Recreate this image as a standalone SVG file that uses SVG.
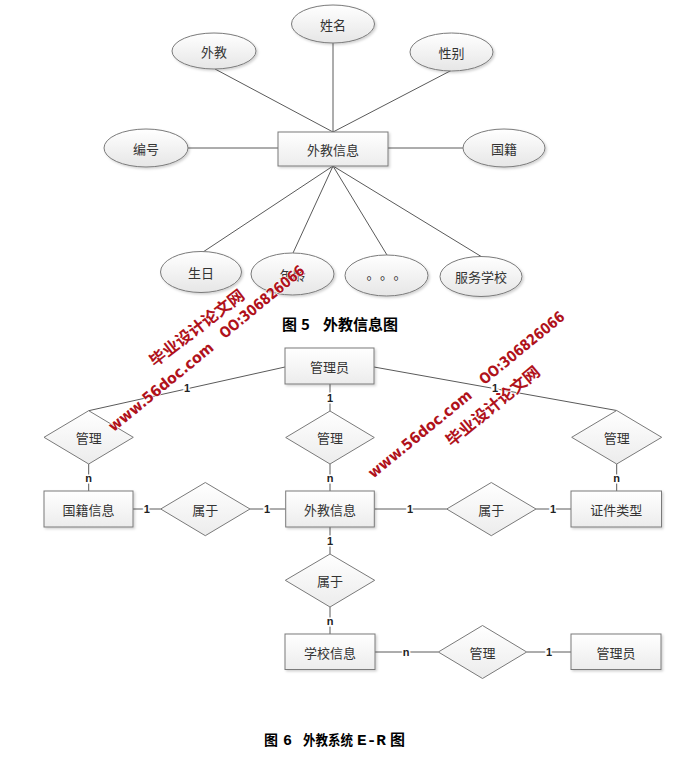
<svg xmlns="http://www.w3.org/2000/svg" width="693" height="757" viewBox="0 0 693 757">
<defs>
<linearGradient id="gE" x1="0" y1="0" x2="0" y2="1"><stop offset="0" stop-color="#ffffff"/><stop offset="1" stop-color="#e6e6e6"/></linearGradient>
<linearGradient id="gR" x1="0" y1="0" x2="0" y2="1"><stop offset="0" stop-color="#ffffff"/><stop offset="1" stop-color="#ececec"/></linearGradient>
<filter id="sh" x="-10%" y="-10%" width="130%" height="140%"><feDropShadow dx="1.5" dy="1.5" stdDeviation="1" flood-color="#000" flood-opacity="0.18"/></filter>
</defs>
<style>
.el{fill:url(#gE);stroke:#7a7a7a;stroke-width:1;filter:url(#sh)}
.rc{fill:url(#gR);stroke:#7a7a7a;stroke-width:1;filter:url(#sh)}
.dm{fill:url(#gR);stroke:#7a7a7a;stroke-width:1}
.ln{stroke:#5a5a5a;stroke-width:1;fill:none}
.t{font-family:"Noto Sans CJK SC","Noto Sans",sans-serif;font-size:13px;fill:#333;text-anchor:middle;dominant-baseline:central}
.c{font-family:"Liberation Sans",Arial,sans-serif;font-size:11px;font-weight:bold;fill:#222;text-anchor:middle;dominant-baseline:central;stroke:#fff;stroke-width:3;paint-order:stroke}
.cap{font-family:"Noto Sans CJK SC",sans-serif;font-size:15px;font-weight:bold;fill:#000}
.cap2{font-family:"Noto Sans CJK SC",sans-serif;font-size:14px;font-weight:bold;fill:#000}
.mono{font-family:"Liberation Mono","DejaVu Sans Mono",monospace;font-size:15px;font-weight:bold;fill:#000}
.wm{font-weight:bold;fill:#b0121b;stroke:#fff;stroke-width:1.2;paint-order:stroke;text-anchor:middle;dominant-baseline:central}
.wc{font-family:"Noto Sans CJK SC",sans-serif;font-size:16px}
.we{font-family:"DejaVu Sans",Verdana,sans-serif;font-size:15px}
</style>

<g id="connectors">
<!-- figure 5 -->
<line class="ln" x1="215" y1="69" x2="333" y2="132"/>
<line class="ln" x1="333" y1="43" x2="333" y2="132"/>
<line class="ln" x1="452" y1="70" x2="333" y2="132"/>
<line class="ln" x1="188" y1="148" x2="278" y2="148"/>
<line class="ln" x1="388" y1="148" x2="463" y2="148"/>
<line class="ln" x1="333" y1="166" x2="203" y2="252"/>
<line class="ln" x1="333" y1="166" x2="293" y2="253"/>
<line class="ln" x1="333" y1="166" x2="387" y2="255"/>
<line class="ln" x1="333" y1="166" x2="482" y2="257"/>
<!-- figure 6 -->
<line class="ln" x1="285" y1="367" x2="88.7" y2="410.7"/>
<line class="ln" x1="374" y1="367" x2="616.7" y2="410.5"/>
<line class="ln" x1="330" y1="384" x2="330" y2="411"/>
<line class="ln" x1="88.7" y1="464" x2="88.7" y2="491"/>
<line class="ln" x1="330" y1="464" x2="330" y2="491"/>
<line class="ln" x1="616.7" y1="464" x2="616.7" y2="491"/>
<line class="ln" x1="133" y1="509" x2="160.7" y2="509"/>
<line class="ln" x1="250" y1="509" x2="285.7" y2="509"/>
<line class="ln" x1="374.3" y1="509" x2="446.7" y2="509"/>
<line class="ln" x1="536" y1="509" x2="571" y2="509"/>
<line class="ln" x1="330" y1="527" x2="330" y2="554"/>
<line class="ln" x1="330" y1="607" x2="330" y2="634"/>
<line class="ln" x1="375" y1="652" x2="438.3" y2="652"/>
<line class="ln" x1="526.7" y1="652" x2="571" y2="652"/>
<text class="c" x="187" y="388">1</text>
<text class="c" x="495" y="388">1</text>
<text class="c" x="330" y="398">1</text>
<text class="c" x="88.7" y="478">n</text>
<text class="c" x="330" y="478">n</text>
<text class="c" x="616.7" y="478">n</text>
<text class="c" x="146.7" y="509">1</text>
<text class="c" x="267" y="509">1</text>
<text class="c" x="410" y="509">1</text>
<text class="c" x="553" y="509">1</text>
<text class="c" x="330" y="541">1</text>
<text class="c" x="330" y="621">n</text>
<text class="c" x="406" y="652">n</text>
<text class="c" x="549" y="652">1</text>
</g>

<!-- figure 5 nodes -->
<g id="e-xingming"><ellipse class="el" cx="333" cy="24" rx="41.5" ry="19"/><text class="t" x="333" y="24">姓名</text></g>
<g id="e-waijiao"><ellipse class="el" cx="214" cy="51" rx="42" ry="18"/><text class="t" x="214" y="51">外教</text></g>
<g id="e-xingbie"><ellipse class="el" cx="451.5" cy="52" rx="41.5" ry="19"/><text class="t" x="451.5" y="52">性别</text></g>
<g id="e-bianhao"><ellipse class="el" cx="146" cy="148" rx="42" ry="19"/><text class="t" x="146" y="148">编号</text></g>
<g id="e-guoji"><ellipse class="el" cx="504" cy="148" rx="41" ry="19"/><text class="t" x="504" y="148">国籍</text></g>
<g id="r-waijiaoxinxi-top"><rect class="rc" x="278" y="132" width="110" height="34"/><text class="t" x="333" y="149">外教信息</text></g>
<g id="e-shengri"><ellipse class="el" cx="201" cy="272" rx="40.5" ry="20.5"/><text class="t" x="201" y="272">生日</text></g>
<g id="e-nianling"><ellipse class="el" cx="292.5" cy="274" rx="41.5" ry="21"/><text class="t" x="292.5" y="274">年龄</text></g>
<g id="e-dots"><ellipse class="el" cx="386.5" cy="275.5" rx="41.5" ry="20.5"/><text class="t" x="373 386.5 400" y="273">。。。</text></g>
<g id="e-fuwuxuexiao"><ellipse class="el" cx="481" cy="276.5" rx="41" ry="20"/><text class="t" x="481" y="276.5">服务学校</text></g>

<g id="caption5" class="cap"><text x="282" y="330">图</text><text x="301" y="330">5</text><text x="323" y="330">外教信息图</text></g>

<!-- figure 6 nodes -->
<g id="r-guanliyuan1"><rect class="rc" x="285" y="348" width="89" height="36"/><text class="t" x="329.5" y="366">管理员</text></g>
<g id="d-guanli-left"><polygon class="dm" points="88.7,410.7 133.3,437.3 88.7,464 44,437.3"/><text class="t" x="88.7" y="437.3">管理</text></g>
<g id="d-guanli-mid"><polygon class="dm" points="330,411 374.3,437.5 330,464 285.7,437.5"/><text class="t" x="330" y="437.5">管理</text></g>
<g id="d-guanli-right"><polygon class="dm" points="616.7,410.5 661.7,437.3 616.7,464 571.7,437.3"/><text class="t" x="616.7" y="437.3">管理</text></g>
<g id="r-guojixinxi"><rect class="rc" x="44" y="491" width="89" height="36"/><text class="t" x="88.5" y="509">国籍信息</text></g>
<g id="d-shuyu-left"><polygon class="dm" points="205.3,482.5 250,509 205.3,535.7 160.7,509"/><text class="t" x="205.3" y="509">属于</text></g>
<g id="r-waijiaoxinxi"><rect class="rc" x="285.7" y="491" width="88.6" height="36"/><text class="t" x="330" y="509">外教信息</text></g>
<g id="d-shuyu-right"><polygon class="dm" points="491.3,482.5 536,509 491.3,535.7 446.7,509"/><text class="t" x="491.3" y="509">属于</text></g>
<g id="r-zhengjianleixing"><rect class="rc" x="571" y="491" width="90.5" height="36"/><text class="t" x="616.3" y="509">证件类型</text></g>
<g id="d-shuyu-down"><polygon class="dm" points="330,554 374.7,580.3 330,607 285.3,580.3"/><text class="t" x="330" y="580.3">属于</text></g>
<g id="r-xuexiaoxinxi"><rect class="rc" x="285" y="634" width="90" height="35.5"/><text class="t" x="330" y="652">学校信息</text></g>
<g id="d-guanli-bottom"><polygon class="dm" points="482.5,625.5 526.7,652 482.5,678.5 438.3,652"/><text class="t" x="482.5" y="652">管理</text></g>
<g id="r-guanliyuan2"><rect class="rc" x="571" y="634" width="90" height="35.5"/><text class="t" x="616" y="652">管理员</text></g>

<g id="caption6"><text class="cap2" x="264" y="745" font-size="15">图</text><text class="mono" x="283" y="745">6</text><text class="cap2" x="303" y="745" textLength="50" lengthAdjust="spacingAndGlyphs">外教系统</text><text class="mono" x="357" y="745" textLength="29" lengthAdjust="spacingAndGlyphs">E-R</text><text class="cap2" x="390" y="745" style="font-size:15px">图</text></g>

<!-- watermarks -->
<g id="watermark-left">
<text class="wm wc" transform="translate(196,327) rotate(-37.5)" textLength="115" lengthAdjust="spacingAndGlyphs">毕业设计论文网</text>
<text class="wm we" transform="translate(161,387) rotate(-39.3)" textLength="131" lengthAdjust="spacingAndGlyphs">www.56doc.com</text>
<text class="wm we" transform="translate(262,302) rotate(-39.6)" textLength="105" lengthAdjust="spacingAndGlyphs">OO:306826066</text>
</g>
<g id="watermark-right">
<text class="wm we" transform="translate(420,434) rotate(-39.4)" textLength="129" lengthAdjust="spacingAndGlyphs">www.56doc.com</text>
<text class="wm wc" transform="translate(492,405) rotate(-39.3)" textLength="116" lengthAdjust="spacingAndGlyphs">毕业设计论文网</text>
<text class="wm we" transform="translate(522,348) rotate(-39.4)" textLength="105" lengthAdjust="spacingAndGlyphs">OO:306826066</text>
</g>
</svg>
